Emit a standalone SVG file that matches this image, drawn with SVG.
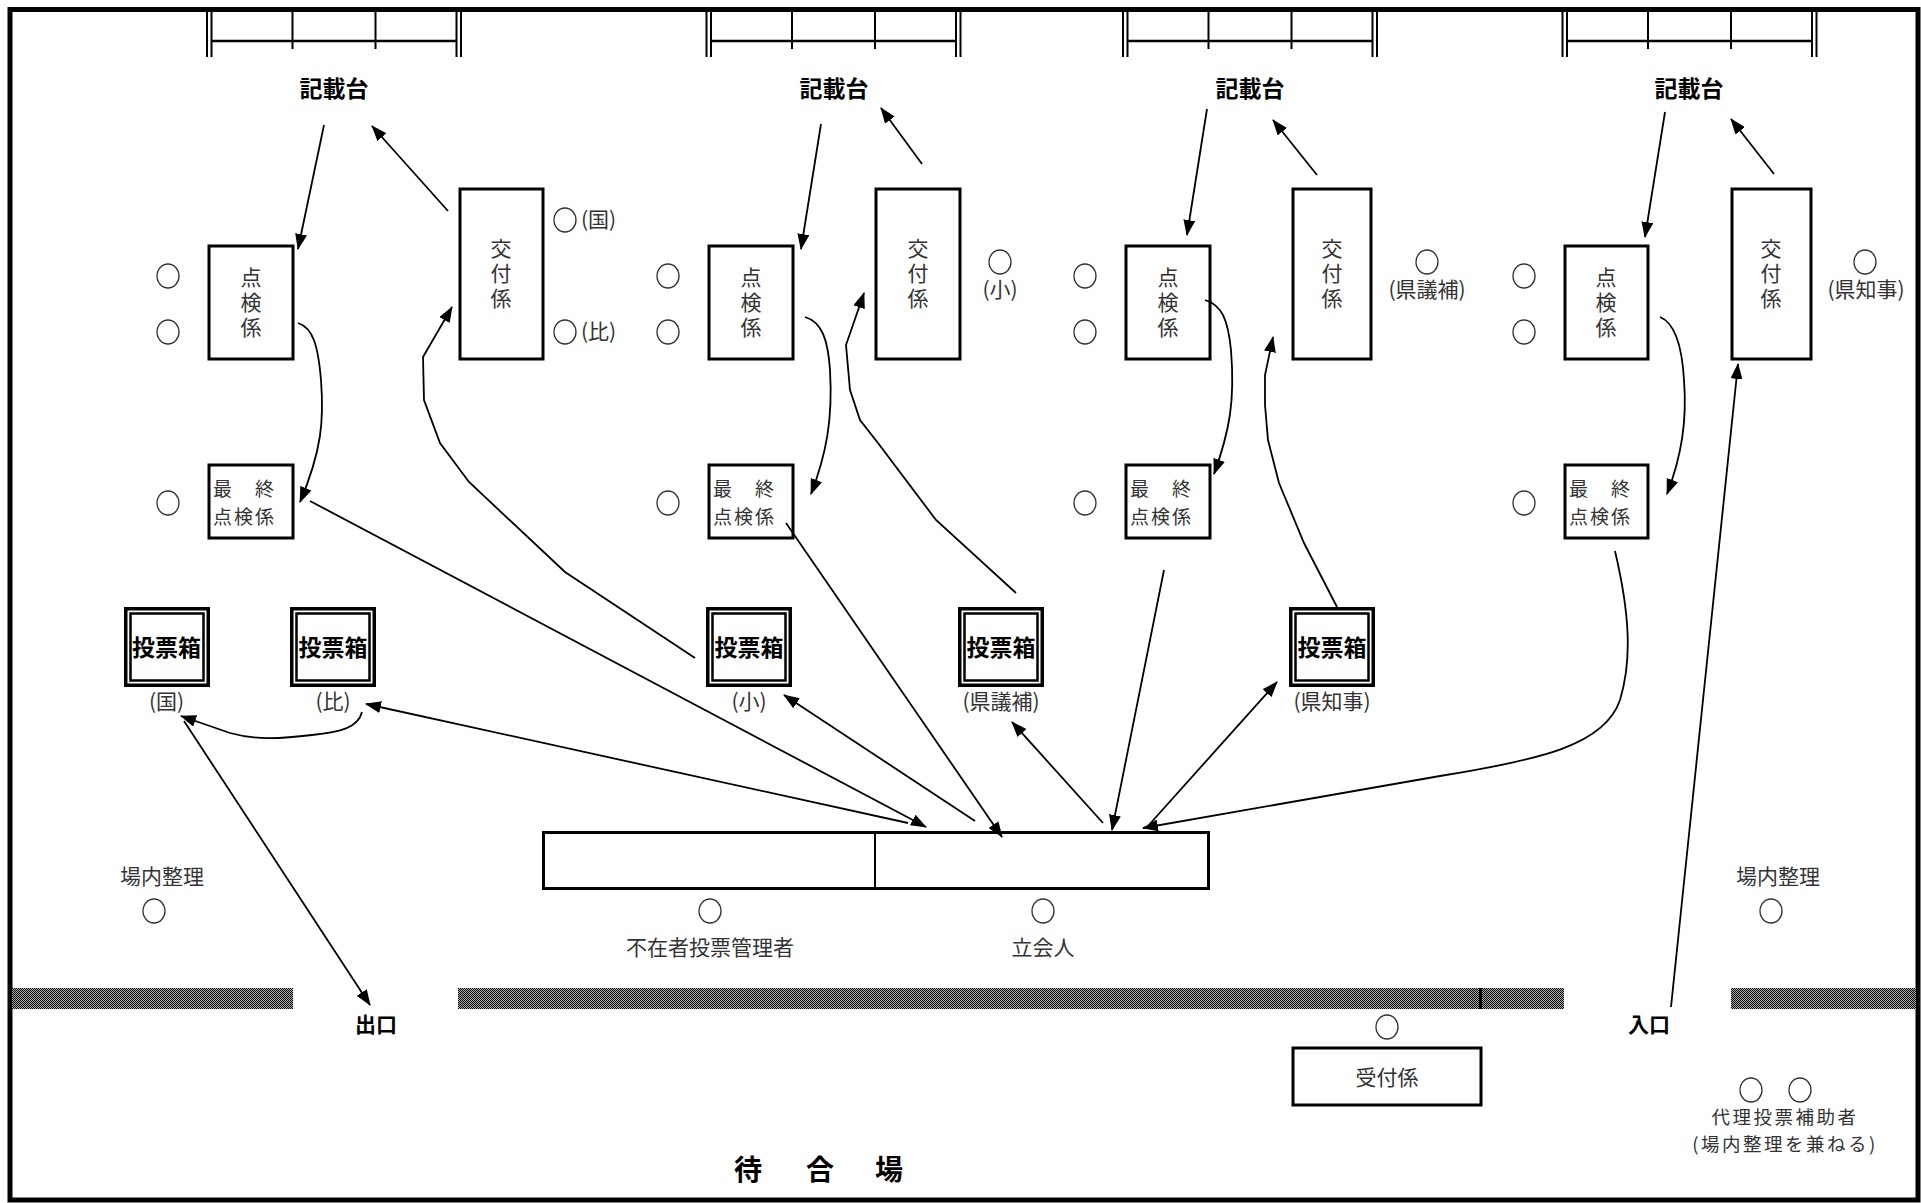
<svg xmlns="http://www.w3.org/2000/svg" width="1921" height="1203" viewBox="0 0 1921 1203">
<style>
.frame{fill:none;stroke:#000;stroke-width:5}
.box{fill:#fff;stroke:#000;stroke-width:3}
.tl{stroke:#000;stroke-width:2;fill:none}
.t{font-family:"Noto Sans CJK JP","Noto Sans CJK SC",sans-serif;font-size:21px;fill:#333}
.tc{text-anchor:middle}
.v{writing-mode:vertical-rl;text-anchor:middle;letter-spacing:4px}
.s{font-size:19px;letter-spacing:2px}
.d{font-size:18.5px;letter-spacing:2.5px}
.b{font-family:"Noto Sans CJK JP","Noto Sans CJK SC",sans-serif;font-weight:bold;fill:#000;text-anchor:middle}
.c{fill:none;stroke:#333;stroke-width:1.3}
.ln{fill:none;stroke:#000;stroke-width:1.8}
.ar{marker-end:url(#ah)}
.wall{fill:url(#hatch)}
</style>
<defs>
<marker id="ah" viewBox="0 0 16 12" refX="15" refY="6" markerWidth="16" markerHeight="12" markerUnits="userSpaceOnUse" orient="auto">
<path d="M0,0 L16,6 L0,12 z" fill="#000"/>
</marker>
<pattern id="hatch" width="2" height="2" patternUnits="userSpaceOnUse">
<rect width="2" height="2" fill="#aaa"/>
<rect width="1" height="1" fill="#000"/>
<rect x="1" y="1" width="1" height="1" fill="#111"/>
</pattern>
<g id="desk">
<path class="tl" d="M0,12 V57 M4.5,12 V57 M249.5,12 V57 M254,12 V57"/>
<path d="M4.5,41 H249.5" stroke="#000" stroke-width="2.5"/>
<path class="tl" d="M85.5,12 V49 M168.5,12 V49"/>
</g>
<g id="ebox">
<rect x="1.75" y="1.75" width="82.5" height="76.5" fill="#fff" stroke="#000" stroke-width="3.5"/>
<rect x="6.5" y="6.5" width="73" height="67" fill="none" stroke="#000" stroke-width="2.5"/>
</g>
</defs>

<rect class="frame" x="10" y="9.5" width="1908" height="1190.5"/>

<!-- writing desks -->
<g id="kisai-1"><use href="#desk" x="207" y="0"/><text class="b" x="334" y="97" font-size="23">記載台</text></g>
<g id="kisai-2"><use href="#desk" x="706.5" y="0"/><text class="b" x="834" y="97" font-size="23">記載台</text></g>
<g id="kisai-3"><use href="#desk" x="1123" y="0"/><text class="b" x="1250" y="97" font-size="23">記載台</text></g>
<g id="kisai-4"><use href="#desk" x="1562.5" y="0"/><text class="b" x="1689" y="97" font-size="23">記載台</text></g>

<!-- 点検係 -->
<g id="tenken-1"><rect class="box" x="209" y="246" width="84" height="113"/><text class="t v" x="251" y="304">点検係</text></g>
<g id="tenken-2"><rect class="box" x="709" y="246" width="84" height="113"/><text class="t v" x="751" y="304">点検係</text></g>
<g id="tenken-3"><rect class="box" x="1126" y="246" width="84" height="113"/><text class="t v" x="1168" y="304">点検係</text></g>
<g id="tenken-4"><rect class="box" x="1565" y="246" width="83" height="113"/><text class="t v" x="1606" y="304">点検係</text></g>

<!-- 交付係 -->
<g id="kofu-1"><rect class="box" x="460" y="189" width="83" height="170"/><text class="t v" x="501" y="275">交付係</text></g>
<g id="kofu-2"><rect class="box" x="876" y="189" width="84" height="170"/><text class="t v" x="918" y="275">交付係</text></g>
<g id="kofu-3"><rect class="box" x="1293" y="189" width="78" height="170"/><text class="t v" x="1332" y="275">交付係</text></g>
<g id="kofu-4"><rect class="box" x="1732" y="189" width="79" height="170"/><text class="t v" x="1771" y="275">交付係</text></g>

<!-- 最終点検係 -->
<g id="saishu-1"><rect class="box" x="209" y="465" width="84" height="73"/><text class="t s" x="213" y="496">最　終</text><text class="t s" x="213" y="524">点検係</text></g>
<g id="saishu-2"><rect class="box" x="709" y="465" width="84" height="73"/><text class="t s" x="713" y="496">最　終</text><text class="t s" x="713" y="524">点検係</text></g>
<g id="saishu-3"><rect class="box" x="1126" y="465" width="84" height="73"/><text class="t s" x="1130" y="496">最　終</text><text class="t s" x="1130" y="524">点検係</text></g>
<g id="saishu-4"><rect class="box" x="1565" y="465" width="83" height="73"/><text class="t s" x="1569" y="496">最　終</text><text class="t s" x="1569" y="524">点検係</text></g>

<!-- 投票箱 -->
<g id="hako-koku"><use href="#ebox" x="124" y="607"/><text class="b" x="166.5" y="656" font-size="23">投票箱</text><text class="t tc" x="166.5" y="709" font-size="20">(国)</text></g>
<g id="hako-hi"><use href="#ebox" x="290" y="607"/><text class="b" x="333" y="656" font-size="23">投票箱</text><text class="t tc" x="333" y="709" font-size="20">(比)</text></g>
<g id="hako-sho"><use href="#ebox" x="706" y="607"/><text class="b" x="749" y="656" font-size="23">投票箱</text><text class="t tc" x="749" y="709" font-size="20">(小)</text></g>
<g id="hako-kengi"><use href="#ebox" x="958" y="607"/><text class="b" x="1001" y="656" font-size="23">投票箱</text><text class="t tc" x="1001" y="709" font-size="20">(県議補)</text></g>
<g id="hako-chiji"><use href="#ebox" x="1289" y="607"/><text class="b" x="1332" y="656" font-size="23">投票箱</text><text class="t tc" x="1332" y="709" font-size="20">(県知事)</text></g>

<!-- staff circles -->
<g id="staff">
<ellipse class="c" cx="168" cy="276" rx="11" ry="12"/><ellipse class="c" cx="168" cy="332" rx="11" ry="12"/><ellipse class="c" cx="168" cy="503" rx="11" ry="12"/>
<ellipse class="c" cx="668" cy="276" rx="11" ry="12"/><ellipse class="c" cx="668" cy="332" rx="11" ry="12"/><ellipse class="c" cx="668" cy="503" rx="11" ry="12"/>
<ellipse class="c" cx="1085" cy="276" rx="11" ry="12"/><ellipse class="c" cx="1085" cy="332" rx="11" ry="12"/><ellipse class="c" cx="1085" cy="503" rx="11" ry="12"/>
<ellipse class="c" cx="1524" cy="276" rx="11" ry="12"/><ellipse class="c" cx="1524" cy="332" rx="11" ry="12"/><ellipse class="c" cx="1524" cy="503" rx="11" ry="12"/>
<ellipse class="c" cx="565" cy="220" rx="11" ry="12"/><text class="t" x="581" y="227" font-size="19">(国)</text>
<ellipse class="c" cx="565" cy="332" rx="11" ry="12"/><text class="t" x="581" y="339" font-size="19">(比)</text>
<ellipse class="c" cx="1000" cy="262" rx="11" ry="12"/><text class="t tc" x="1000" y="297" font-size="19">(小)</text>
<ellipse class="c" cx="1427" cy="262" rx="11" ry="12"/><text class="t tc" x="1427" y="297" font-size="19">(県議補)</text>
<ellipse class="c" cx="1865" cy="262" rx="11" ry="12"/><text class="t tc" x="1866" y="297" font-size="19">(県知事)</text>
</g>

<!-- central table -->
<g id="table"><rect class="box" x="543.5" y="832.5" width="665" height="56"/><line x1="875" y1="832" x2="875" y2="889" stroke="#000" stroke-width="2"/></g>
<g id="kanrisha"><ellipse class="c" cx="710" cy="911" rx="11" ry="12"/><text class="t tc" x="710" y="955">不在者投票管理者</text></g>
<g id="tachiainin"><ellipse class="c" cx="1043" cy="911" rx="11" ry="12"/><text class="t tc" x="1043" y="955">立会人</text></g>
<g id="seiri-left"><text class="t tc" x="162" y="884">場内整理</text><ellipse class="c" cx="154" cy="911" rx="11" ry="12"/></g>
<g id="seiri-right"><text class="t tc" x="1778" y="884">場内整理</text><ellipse class="c" cx="1771" cy="911" rx="11" ry="12"/></g>

<!-- walls -->
<g id="walls">
<rect class="wall" x="12" y="988" width="281" height="21"/>
<rect class="wall" x="458" y="988" width="1106" height="21"/>
<rect x="1479" y="988" width="3" height="21" fill="#000"/>
<rect class="wall" x="1731" y="988" width="185" height="21"/>
</g>
<g id="exit"><text class="b" x="376" y="1032" font-size="21">出口</text></g>
<g id="entrance"><text class="b" x="1649" y="1032" font-size="21">入口</text></g>

<g id="uketsuke"><ellipse class="c" cx="1387" cy="1027" rx="11" ry="12"/><rect class="box" x="1293" y="1048" width="188" height="57"/><text class="t tc" x="1387" y="1085">受付係</text></g>
<g id="dairi"><ellipse class="c" cx="1751" cy="1090" rx="11" ry="12"/><ellipse class="c" cx="1800" cy="1090" rx="11" ry="12"/><text class="t tc d" x="1785" y="1124">代理投票補助者</text><text class="t tc d" x="1785" y="1151">(場内整理を兼ねる)</text></g>
<g id="machiai"><text class="b" x="748 820 889" y="1180" font-size="28">待合場</text></g>

<!-- connectors -->
<g id="connectors">
<path class="ln ar" d="M324,125 L298,249"/>
<path class="ln ar" d="M448,211 L372,126"/>
<path class="ln ar" d="M821,124 L801,249"/>
<path class="ln ar" d="M922,164 L881,108"/>
<path class="ln ar" d="M1207,109 L1187,235"/>
<path class="ln ar" d="M1317,175 L1273,120"/>
<path class="ln ar" d="M1665,112 L1645,237"/>
<path class="ln ar" d="M1774,174 L1731,119"/>

<path class="ln ar" d="M298,323 C313,328 318,345 321,380 C324,420 322,450 300,502"/>
<path class="ln ar" d="M805,317 C822,322 828,340 830,370 C833,420 826,455 811,494"/>
<path class="ln ar" d="M1205,300 C1222,305 1228,320 1231,350 C1235,400 1230,430 1214,474"/>
<path class="ln ar" d="M1660,317 C1675,323 1682,345 1684,380 C1687,420 1682,455 1667,494"/>

<path class="ln ar" d="M310,501 L926,827"/>
<path class="ln ar" d="M786,523 L1002,837"/>
<path class="ln ar" d="M1164,570 L1112,830"/>
<path class="ln ar" d="M1615,551 C1630,615 1632,660 1620,700 C1605,745 1540,760 1440,776 L1143,828"/>

<path class="ln ar" d="M908,823 L366,704"/>
<path class="ln ar" d="M975,821 L784,695"/>
<path class="ln ar" d="M1103,823 L1012,722"/>
<path class="ln ar" d="M1148,826 L1277,682"/>

<path class="ln ar" d="M362,712 C358,728 340,732 312,735 C280,739 255,740 230,733 L181,716"/>
<path class="ln ar" d="M184,721 L370,1005"/>

<path class="ln ar" d="M695,658 L565,572 L469,482 L440,443 L424,400 L423,357 L452,307"/>
<path class="ln ar" d="M1016,593 L936,520 L878,443 L860,420 L850,390 L846,345 L864,293"/>
<path class="ln ar" d="M1337,607 L1304,543 L1279,483 L1268,440 L1265,405 L1265,375 L1273,337"/>
<path class="ln ar" d="M1671,1007 L1738,364"/>
</g>
</svg>
